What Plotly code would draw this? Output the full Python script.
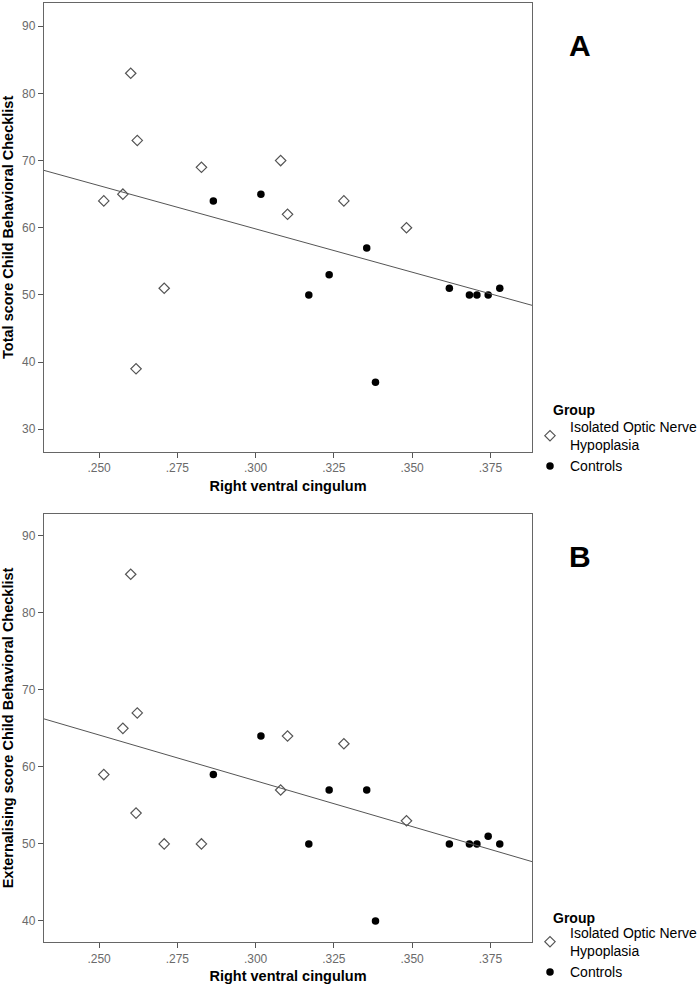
import numpy as np
import plotly.graph_objects as go
from plotly.subplots import make_subplots

# ---------------- data ----------------
group_names = ["Isolated Optic Nerve<br>Hypoplasia", "Controls"]

onh_x = [0.2515, 0.2576, 0.2601, 0.2622, 0.2618, 0.2708, 0.2827, 0.3080, 0.3102, 0.3282, 0.3482]
onh_total = [64, 65, 83, 73, 39, 51, 69, 70, 62, 64, 60]
onh_ext = [59, 65, 85, 67, 54, 50, 50, 57, 64, 63, 53]

ctl_x = [0.2865, 0.3017, 0.3170, 0.3235, 0.3355, 0.3383, 0.3619, 0.3683, 0.3707, 0.3743, 0.3780]
ctl_total = [64, 65, 50, 53, 57, 37, 51, 50, 50, 50, 51]
ctl_ext = [59, 64, 50, 57, 57, 40, 50, 50, 50, 51, 50]

x_tickvals = [0.250, 0.275, 0.300, 0.325, 0.350, 0.375]
x_ticktext = [".250", ".275", ".300", ".325", ".350", ".375"]
y_ticks_top = [30, 40, 50, 60, 70, 80, 90]
y_ticks_bot = [40, 50, 60, 70, 80, 90]

x_title = "Right ventral cingulum"
y_title_top = "Total score Child Behavioral Checklist"
y_title_bot = "Externalising score Child Behavioral Checklist"
panel_labels = ["A", "B"]
legend_title = "Group"

x_range = [0.2324, 0.3883]
y_range_top = [26.66, 93.46]
y_range_bot = [37.27, 92.82]

# ---------------- figure ----------------
W, H = 700, 988
ML, MR, MT, MB = 44, 168, 3, 46
PW, PH = W - ML - MR, H - MT - MB

def px(xp):
    return (xp - ML) / PW

def py(yp):
    return (H - MB - yp) / PH

fig = make_subplots(rows=2, cols=1, vertical_spacing=0.0)
fig.update_layout(
    xaxis=dict(domain=[0, 1], anchor="y"),
    yaxis=dict(domain=[py(451.7), 1.0], anchor="x"),
    xaxis2=dict(domain=[0, 1], anchor="y2"),
    yaxis2=dict(domain=[0.0, py(514)], anchor="x2"),
)

FONT = "Liberation Sans, Arial, sans-serif"
diamond = dict(symbol="diamond-open", size=8, color="#555555", line=dict(width=1.2, color="#555555"))
dot = dict(symbol="circle", size=7.5, color="#000000")

panels = [
    (1, onh_total, ctl_total, "legend"),
    (2, onh_ext, ctl_ext, "legend2"),
]
for row, onh_y, ctl_y, leg in panels:
    fig.add_trace(go.Scatter(x=onh_x, y=onh_y, mode="markers", marker=diamond,
                             name=group_names[0], legend=leg), row=row, col=1)
    fig.add_trace(go.Scatter(x=ctl_x, y=ctl_y, mode="markers", marker=dot,
                             name=group_names[1], legend=leg), row=row, col=1)
    all_x = np.array(onh_x + ctl_x)
    all_y = np.array(onh_y + ctl_y, dtype=float)
    slope, intercept = np.polyfit(all_x, all_y, 1)
    lx = np.array(x_range)
    fig.add_trace(go.Scatter(x=lx, y=slope * lx + intercept, mode="lines",
                             line=dict(color="#555555", width=1), showlegend=False,
                             hoverinfo="skip"), row=row, col=1)

axis_common = dict(showline=True, mirror=True, linecolor="#666666", linewidth=1.3,
                   ticks="outside", ticklen=5, tickcolor="#555555", tickwidth=1.2,
                   showgrid=False, zeroline=False,
                   tickfont=dict(family=FONT, size=12, color="#6a6a6a"))

TITLE_FONT = dict(family=FONT, size=14.5, color="#000000")
for r in (1, 2):
    fig.update_xaxes(range=x_range, tickvals=x_tickvals, ticktext=x_ticktext,
                     title=dict(text="<b>%s</b>" % x_title, standoff=6, font=TITLE_FONT),
                     **axis_common, row=r, col=1)

fig.update_yaxes(range=y_range_top, tickvals=y_ticks_top,
                 title=dict(text="<b>%s</b>" % y_title_top, standoff=6, font=TITLE_FONT),
                 **axis_common, row=1, col=1)
fig.update_yaxes(range=y_range_bot, tickvals=y_ticks_bot,
                 title=dict(text="<b>%s</b>" % y_title_bot, standoff=6, font=TITLE_FONT),
                 **axis_common, row=2, col=1)

legend_common = dict(font=dict(family=FONT, size=14, color="#000000"), bgcolor="rgba(0,0,0,0)",
                     xanchor="left", yanchor="top", itemwidth=30, tracegroupgap=0,
                     traceorder="normal")

def label(text, x, y, size, xanchor="center"):
    return dict(text="<b>%s</b>" % text, x=px(x), y=py(y), xref="paper", yref="paper",
                xanchor=xanchor, yanchor="middle", showarrow=False,
                font=dict(family=FONT, size=size, color="#000000"))

annotations = [
    label(panel_labels[0], 580, 46, 30),
    label(panel_labels[1], 580, 556, 30),
    label(legend_title, 551, 410, 14, xanchor="left"),
    label(legend_title, 551, 917.7, 14, xanchor="left"),
]

fig.update_layout(
    width=W, height=H,
    margin=dict(l=ML, r=MR, t=MT, b=MB, autoexpand=False),
    paper_bgcolor="white", plot_bgcolor="white",
    font=dict(family=FONT),
    showlegend=True,
    legend=dict(x=px(530), y=py(411), **legend_common),
    legend2=dict(x=px(530), y=py(917), **legend_common),
    annotations=annotations,
)

fig.write_html("out.html", config={"displayModeBar": False},
               post_script="document.body.style.margin='0px';")
